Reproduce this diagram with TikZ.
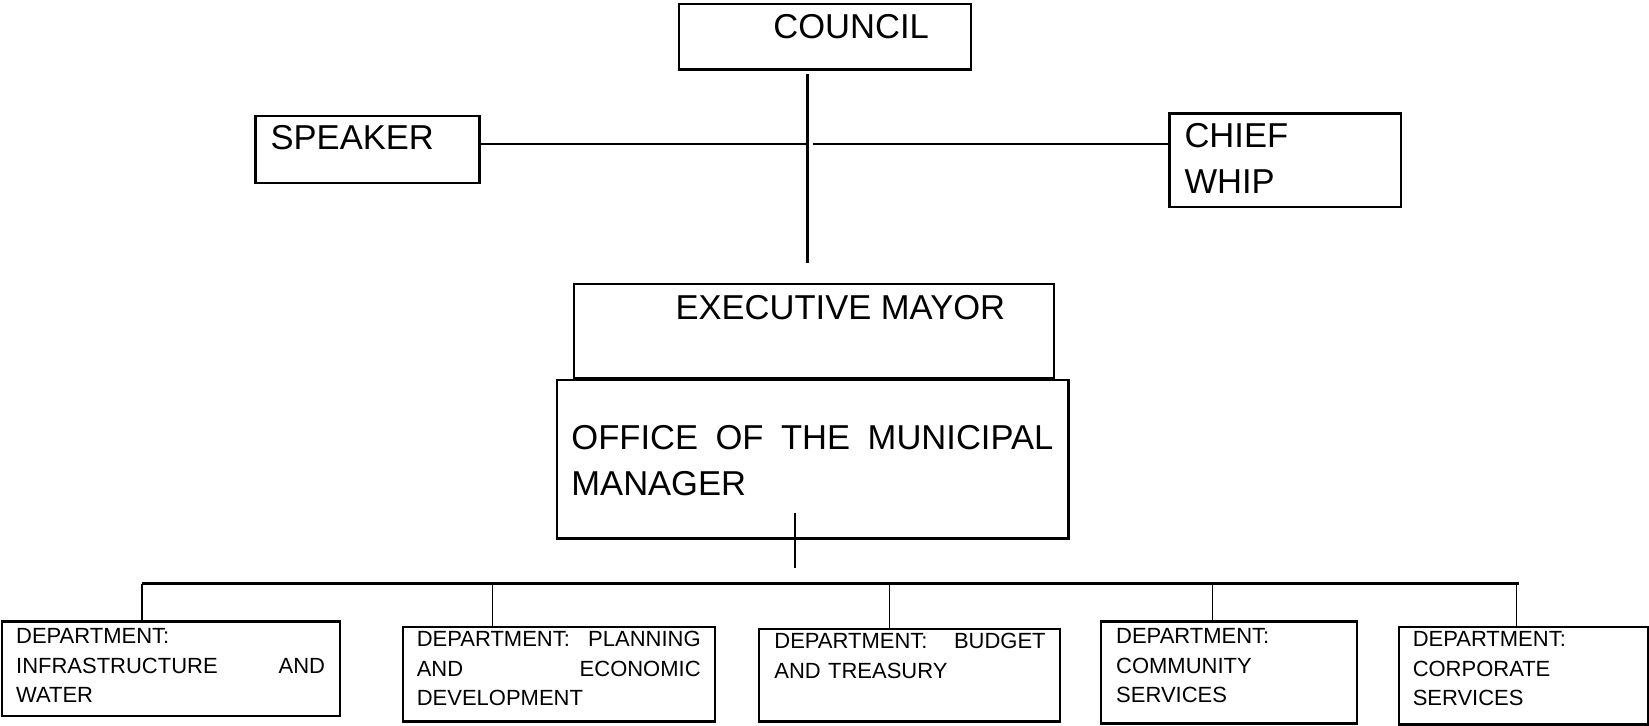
\documentclass[tikz,border=0pt]{standalone}
\usepackage{fontspec}
\setmainfont{Liberation Sans}
\usetikzlibrary{positioning, fit, calc}

\begin{document}
\begin{tikzpicture}[x=0.02cm, y=-0.02cm,
    box/.style={rectangle, draw, line width=1.2pt, inner sep=0pt},
    big/.style={anchor=base west, inner sep=0pt, align=left,
                font=\fontsize{18.7}{25.2}\selectfont},
    small/.style={anchor=base west, inner sep=0pt, align=left,
                  font=\fontsize{11.9}{15.9}\selectfont},
    link/.style={line width=1.4pt},
    drop/.style={line width=0.6pt}
  ]
  \useasboundingbox (0,0) rectangle (1568,690);

  % council, speaker and chief whip
  \node[box, fit={(646,4) (923,66)}] (council) {};
  \node[big] (councilT) at (735,37) {COUNCIL};
  \node[box, fit={(243,110) (456,174)}] (speaker) {};
  \node[big] (speakerT) at (257,142) {SPEAKER};
  \node[box, fit={(1112,108) (1332,197)}] (whip) {};
  \node[big, text width=108pt] (whipT) at (1126,140) {CHIEF\\WHIP};

  \coordinate (cv) at (768,250);
  \coordinate (hub) at (768,137);
  \draw[link, shorten <=2pt] (council.south -| cv) -- (cv);
  \draw[link] (speaker.east |- hub) -- (hub);
  \draw[link] ([xshift=2.8pt]hub) -- (whip.west |- hub);

  % mayor and municipal manager
  \node[box, fit={(546,270) (1002,360)}] (mayor) {};
  \node[big] (mayorT) at (642,304) {EXECUTIVE MAYOR};
  \node[box, fit={(530,361) (1016,512)}] (office) {};
  \node[big, text width=260.8pt] (officeT) at (543,427)
        {OFFICE\hfill OF\hfill THE\hfill MUNICIPAL\\MANAGER};

  \coordinate (omtop) at (756,488);
  \coordinate (ombot) at (756,540);
  \draw[link, line width=1pt] (omtop) -- (ombot);

  % departments
  \coordinate (busL) at (135,555);
  \coordinate (busR) at (1444,555);
  \draw[link] (busL) -- (busR);

  \node[box, fit={(2,591) (323,681)}] (d1) {};
  \node[small, text width=167.2pt] (d1T) at (15,612)
        {DEPARTMENT:\\INFRASTRUCTURE\hfill AND\\WATER};
  \node[box, fit={(383,596) (680,686)}] (d2) {};
  \node[small, text width=153.6pt] (d2T) at (396,615)
        {DEPARTMENT:\hfill PLANNING\\AND\hfill ECONOMIC\\DEVELOPMENT};
  \node[box, fit={(722,598) (1008,686)}] (d3) {};
  \node[small, text width=146.8pt] (d3T) at (736,617)
        {DEPARTMENT:\hfill BUDGET\\AND TREASURY};
  \node[box, fit={(1047,591) (1290,688)}] (d4) {};
  \node[small, text width=113pt] (d4T) at (1061,612)
        {DEPARTMENT:\\COMMUNITY\\SERVICES};
  \node[box, fit={(1330,596) (1567,689)}] (d5) {};
  \node[small, text width=113pt] (d5T) at (1343,615)
        {DEPARTMENT:\\CORPORATE\\SERVICES};

  \foreach \d/\x in {d1/135, d2/468, d3/846, d4/1153, d5/1442}
    \draw[drop] (\x,0 |- busL) -- (\x,0 |- \d.north);
\end{tikzpicture}
\end{document}
